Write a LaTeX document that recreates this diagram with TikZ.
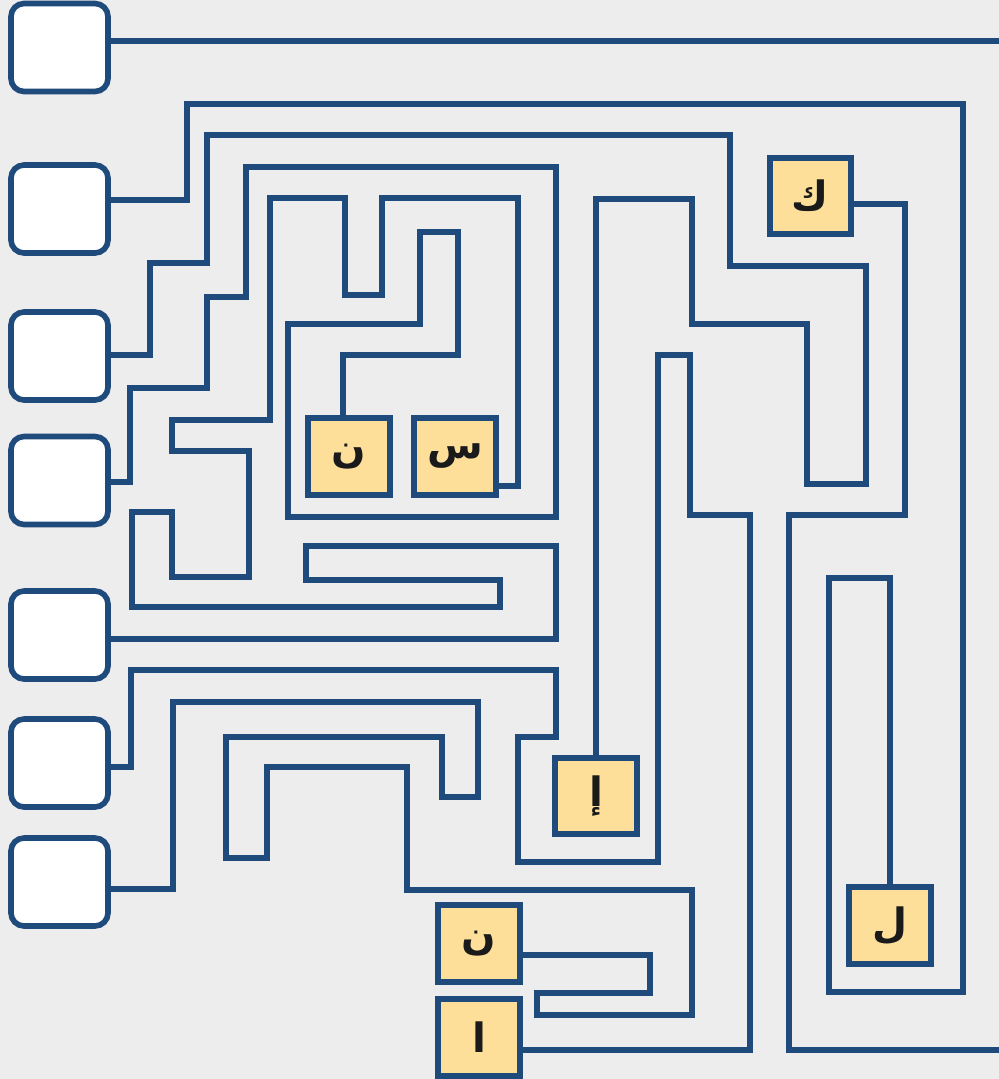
\documentclass[tikz,border=0pt]{standalone}
\usepackage{fontspec}
\usepackage{xcolor}
\newfontfamily\arabicfont[Script=Arabic]{DejaVu Sans}
\TeXXeTstate=1

\definecolor{wireblue}{HTML}{1F4A7C}
\definecolor{paper}{HTML}{EDEDED}
\definecolor{tile}{HTML}{FDDF99}
\definecolor{ink}{HTML}{1A1A1A}

\begin{document}
\begin{tikzpicture}[
    x=0.02cm, y=-0.02cm,
    slot/.style={rectangle, rounded corners=0.26cm, draw=wireblue, fill=white,
                 line width=3.2pt, minimum width=1.94cm, minimum height=1.76cm},
    letter/.style={rectangle, draw=wireblue, fill=tile, line width=3.2pt,
                   minimum width=1.63cm, minimum height=1.53cm, text=ink,
                   font=\arabicfont\bfseries\fontsize{23}{25}\selectfont},
    wire/.style={draw=wireblue, line width=3.1pt}
]

\path[use as bounding box, fill=paper] (0,0) rectangle (999,1079);

% answer slots on the left
\node[slot] (b1) at (59.5,47.5) {};
\node[slot] (b2) at (59.5,209) {};
\node[slot] (b3) at (59.5,356) {};
\node[slot] (b4) at (59.5,480.5) {};
\node[slot] (b5) at (59.5,635) {};
\node[slot] (b6) at (59.5,763) {};
\node[slot] (b7) at (59.5,882) {};

% letter tiles
\node[letter] (kaf)   at (810.5,196)  {\beginR ك\endR};
\node[letter] (nunA)  at (349,456.5)  {\beginR ن\endR};
\node[letter] (sin)   at (455,456.5)  {\beginR س\endR};
\node[letter] (hamza) at (596,796)    {\beginR إ\endR};
\node[letter] (nunB)  at (479,943.5)  {\beginR ن\endR};
\node[letter] (alif)  at (479,1037.5) {\beginR ا\endR};
\node[letter] (lam)   at (890,925.5)  {\beginR ل\endR};

\coordinate (exitA) at (999,41);
\coordinate (exitB) at (999,1050);

\draw[wire] (b1.east |- 0,41) -- (exitA);
\draw[wire] (b2.east |- 0,200) -| (187,104) -| (963,992) -| (829,578) -| (lam.north);
\draw[wire] (b3.east |- 0,355) -| (150,263) -| (207,135) -| (730,266) -| (866,484)
    -| (807,324) -| (692,199) -| (hamza.north);
\draw[wire] (b4.east |- 0,482) -| (130,388) -| (207,297) -| (246,167) -| (556,517)
    -| (288,324) -| (420,232) -| (458,355) -| (nunA.north -| 343,0);
\draw[wire] (b5.east |- 0,639) -| (556,546) -| (306,580) -| (500,607) -| (132,512)
    -| (172,577) -| (249,451) -| (172,420) -| (270,198) -| (345,295) -| (382,198)
    -| (518,486) -- (sin.east |- 0,486);
\draw[wire] (b6.east |- 0,767) -| (131,670) -| (556,737) -| (518,862) -| (658,355)
    -| (690,515) -| (750,1050) -- (alif.east |- 0,1050);
\draw[wire] (b7.east |- 0,889) -| (173,702) -| (478,797) -| (442,737) -| (226,858)
    -| (267,767) -| (407,890) -| (692,1015) -| (537,993) -| (650,955) -- (nunB.east |- 0,955);
\draw[wire] (kaf.east |- 0,204) -| (905,515) -| (789,1050) -- (exitB);

\end{tikzpicture}
\end{document}
